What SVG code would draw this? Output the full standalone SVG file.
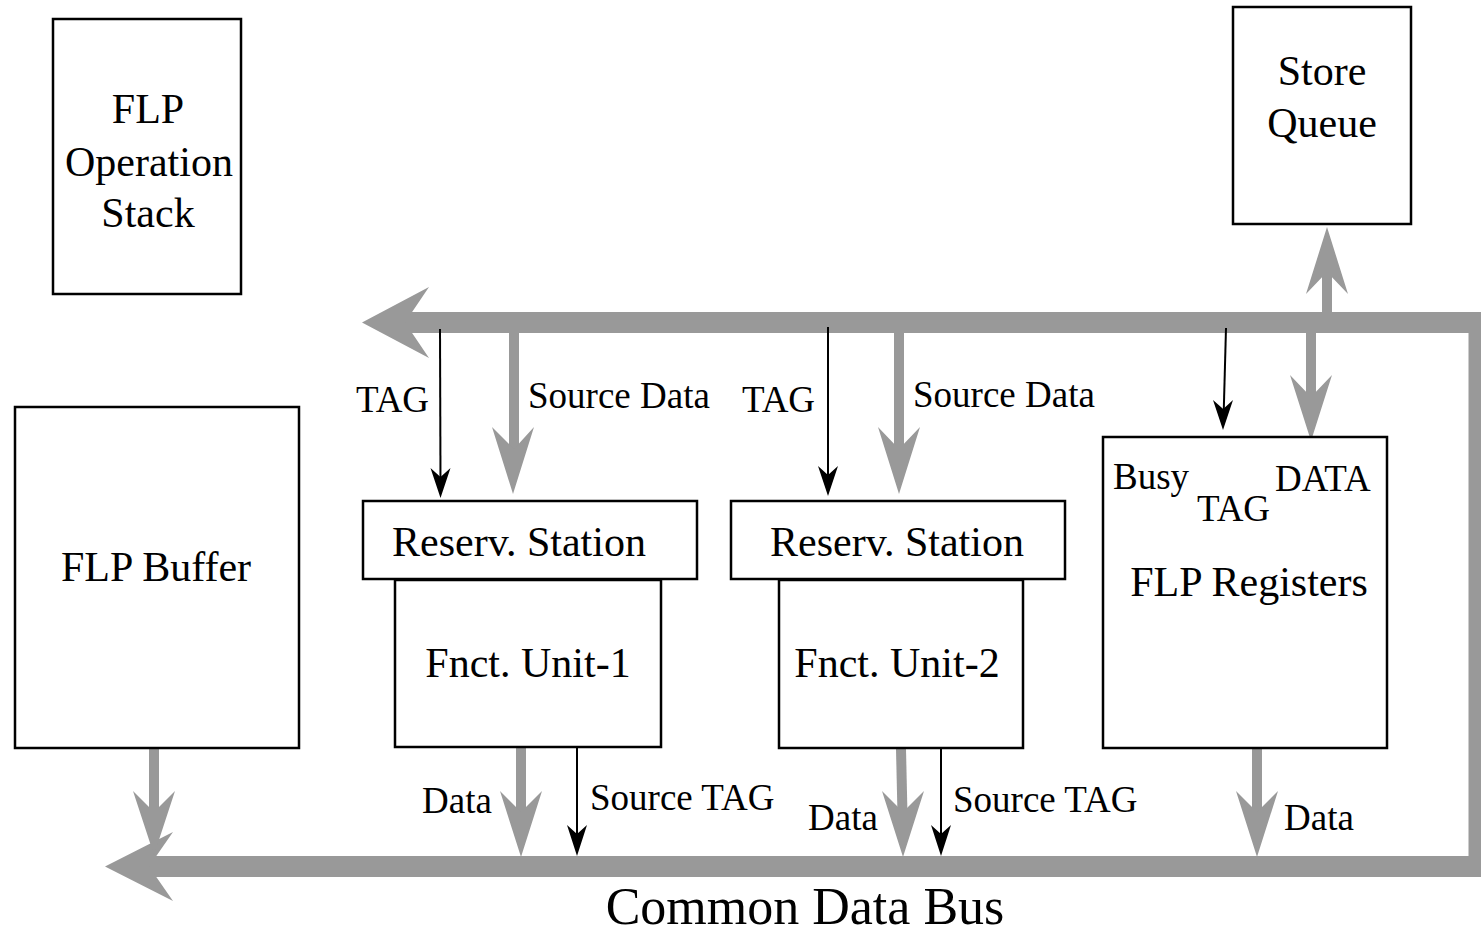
<svg xmlns="http://www.w3.org/2000/svg" width="1481" height="934" viewBox="0 0 1481 934">
  <style>
    .box { fill: #fff; stroke: #000; stroke-width: 2.5; }
    .t { font-family: "Liberation Serif", "Times New Roman", serif; fill: #000; }
    .node { font-size: 42px; }
    .lbl { font-size: 37px; }
    .bus { fill: none; stroke: #999; stroke-width: 21; stroke-linejoin: miter; }
    .wide { stroke: #999; stroke-width: 10; fill: none; }
    .thin { stroke: #000; stroke-width: 2; fill: none; }
    .ghead { fill: #999; }
    .khead { fill: #000; }
  </style>

  <!-- buses and connectors -->
  <g id="connectors">
    <!-- top bus + right return + common data bus -->
    <path class="bus" d="M 404 322.5 H 1479 V 866.5 H 149"/>
    <polygon class="ghead" points="362,322.5 429,287 405,322.5 429,358"/>
    <polygon class="ghead" points="105,866.5 173,832 149,866.5 173,901"/>

    <!-- top bus to reservation station 1 -->
    <line class="thin" x1="440" y1="329" x2="440.5" y2="485"/>
    <polygon class="khead" points="440.5,498 450.5,468 440.5,477 430.5,468"/>
    <line class="wide" x1="514" y1="333" x2="514" y2="455"/>
    <polygon class="ghead" points="513,494 534,427 514,449 492,427"/>

    <!-- top bus to reservation station 2 -->
    <line class="thin" x1="828" y1="327" x2="828" y2="485"/>
    <polygon class="khead" points="828,496 838,466 828,475 818,466"/>
    <line class="wide" x1="899" y1="333" x2="899" y2="455"/>
    <polygon class="ghead" points="899,494 920,427 899,449 878,427"/>

    <!-- top bus to registers -->
    <line class="thin" x1="1226" y1="328" x2="1223.5" y2="420"/>
    <polygon class="khead" points="1223,430 1233,400 1223.2,409 1213,400"/>
    <line class="wide" x1="1311" y1="333" x2="1311" y2="400"/>
    <polygon class="ghead" points="1311,441 1332,375 1311,397 1290,375"/>

    <!-- bus up to store queue -->
    <line class="wide" x1="1327" y1="312" x2="1327" y2="270"/>
    <polygon class="ghead" points="1327,227 1348,294 1327,272 1306,294"/>

    <!-- FLP buffer to common data bus -->
    <line class="wide" x1="154" y1="749" x2="154" y2="815"/>
    <polygon class="ghead" points="154,855 175,791 154,812 133,791"/>

    <!-- functional unit 1 outputs -->
    <line class="wide" x1="521" y1="748" x2="521" y2="815"/>
    <polygon class="ghead" points="521,857 542,791 521,812 500,791"/>
    <line class="thin" x1="577" y1="747" x2="577" y2="845"/>
    <polygon class="khead" points="577,856 587,825 577,834 567,825"/>

    <!-- functional unit 2 outputs -->
    <line class="wide" x1="901" y1="749" x2="902.5" y2="815"/>
    <polygon class="ghead" points="903,857 924,791 903,812 882,791"/>
    <line class="thin" x1="941" y1="749" x2="941" y2="845"/>
    <polygon class="khead" points="941,856 951,825 941,834 931,825"/>

    <!-- registers output -->
    <line class="wide" x1="1257" y1="749" x2="1257" y2="815"/>
    <polygon class="ghead" points="1257,857 1278,791 1257,812 1236,791"/>

    <!-- connector labels -->
    <text class="t lbl" x="356" y="412">TAG</text>
    <text class="t lbl" x="528" y="408">Source Data</text>
    <text class="t lbl" x="742" y="412">TAG</text>
    <text class="t lbl" x="913" y="407">Source Data</text>
    <text class="t lbl" x="422" y="813">Data</text>
    <text class="t lbl" x="590" y="810">Source TAG</text>
    <text class="t lbl" x="808" y="830">Data</text>
    <text class="t lbl" x="953" y="812">Source TAG</text>
    <text class="t lbl" x="1284" y="830">Data</text>
    <text class="t" x="805" y="924" font-size="52" text-anchor="middle">Common Data Bus</text>
  </g>

  <g id="flp-operation-stack">
    <rect class="box" x="53" y="19" width="188" height="275"/>
    <text class="t node" x="148" y="123" text-anchor="middle">FLP</text>
    <text class="t node" x="149" y="176" text-anchor="middle">Operation</text>
    <text class="t node" x="148" y="227" text-anchor="middle">Stack</text>
  </g>

  <g id="store-queue">
    <rect class="box" x="1233" y="7" width="178" height="217"/>
    <text class="t node" x="1322" y="85" text-anchor="middle">Store</text>
    <text class="t node" x="1322" y="137" text-anchor="middle">Queue</text>
  </g>

  <g id="flp-buffer">
    <rect class="box" x="15" y="407" width="284" height="341"/>
    <text class="t node" x="156" y="581" text-anchor="middle">FLP Buffer</text>
  </g>

  <g id="reservation-station-1">
    <rect class="box" x="363" y="501" width="334" height="78"/>
    <text class="t node" x="519" y="556" text-anchor="middle">Reserv. Station</text>
  </g>

  <g id="functional-unit-1">
    <rect class="box" x="395" y="580" width="266" height="167"/>
    <text class="t node" x="528" y="677" text-anchor="middle">Fnct. Unit-1</text>
  </g>

  <g id="reservation-station-2">
    <rect class="box" x="731" y="501" width="334" height="78"/>
    <text class="t node" x="897" y="556" text-anchor="middle">Reserv. Station</text>
  </g>

  <g id="functional-unit-2">
    <rect class="box" x="779" y="580" width="244" height="168"/>
    <text class="t node" x="897" y="677" text-anchor="middle">Fnct. Unit-2</text>
  </g>

  <g id="flp-registers">
    <rect class="box" x="1103" y="437" width="284" height="311"/>
    <text class="t lbl" x="1113" y="489">Busy</text>
    <text class="t lbl" x="1197" y="521">TAG</text>
    <text class="t lbl" x="1275" y="491">DATA</text>
    <text class="t node" x="1249" y="596" text-anchor="middle">FLP Registers</text>
  </g>
</svg>
